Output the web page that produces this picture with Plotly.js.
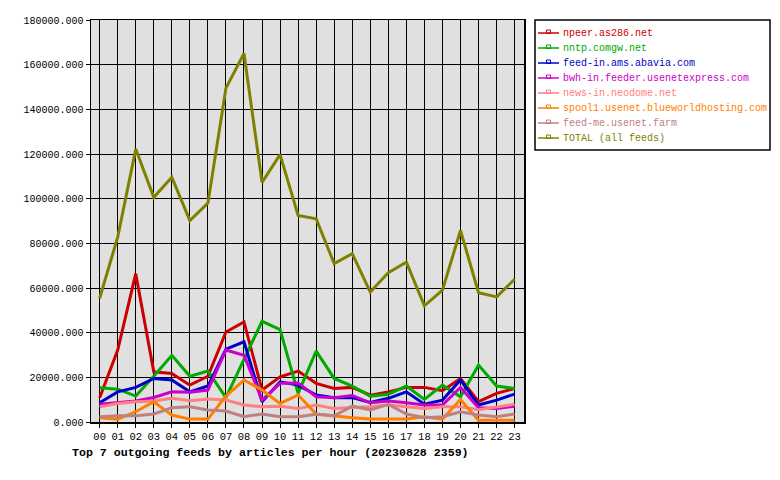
<!DOCTYPE html>
<html>
<head>
<meta charset="utf-8">
<script src="https://cdn.plot.ly/plotly-3.0.1.min.js"></script>
<style>html,body{margin:0;padding:0;background:#fff;}#chart{width:780px;height:480px;}</style>
</head>
<body>
<div id="chart"></div>
<script>
var hours = ["00","01","02","03","04","05","06","07","08","09","10","11","12","13","14","15","16","17","18","19","20","21","22","23"];
var feedNames = ["npeer.as286.net","nntp.comgw.net","feed-in.ams.abavia.com","bwh-in.feeder.usenetexpress.com","news-in.neodome.net","spool1.usenet.blueworldhosting.com","feed-me.usenet.farm","TOTAL (all feeds)"];
var feedColors = ["#cc0000","#00aa00","#0000cc","#cc00cc","#ff8080","#ff8000","#c08080","#808000"];

var npeer   = [10900,32200,66400,22500,21700,16500,20500,40300,44800,14300,20200,22800,17300,15000,15500,12000,13500,15500,15500,14000,19500,9100,12800,15000];
var nntp    = [15300,14700,11600,20500,29900,20500,22800,10900,28000,45100,41400,12800,31700,19500,16100,11600,12400,16100,10100,16500,11300,25500,16100,15000];
var abavia  = [8600,13500,15500,19500,18800,13500,16100,32600,35900,9100,18000,16500,12100,10900,10900,8800,10600,13500,8000,9800,18800,7600,9800,12500];
var bwh     = [8000,8600,9400,11000,13500,13300,14300,32200,29900,9800,17300,17500,11300,10900,11900,8600,9400,8600,7600,7600,15500,6400,6000,7100];
var neodome = [6800,8300,9100,9400,10600,9500,10300,9800,7600,6800,7100,6000,7600,6000,6500,6800,7600,6800,6000,6800,6800,5500,6800,7900];
var spool1  = [1900,1200,4600,9100,3100,1300,1300,11600,18800,14300,8300,12100,3600,2600,1900,1300,1300,1300,2300,1300,10100,800,800,800];
var feedme  = [2400,2800,2800,3600,6400,6800,5400,4900,2400,3600,2400,2400,3500,2800,7100,5400,7900,3600,1900,2400,4600,3100,2400,3600];
var total   = [55400,82800,122200,100600,109600,90200,98000,149500,165000,107300,119700,92500,91000,70900,75400,58200,66900,71600,52000,59000,85800,57900,56000,63900];

var yTickVals = [0,20000,40000,60000,80000,100000,120000,140000,160000,180000];

var series = [npeer, nntp, abavia, bwh, neodome, spool1, feedme, total];
var FONT = "Liberation Mono, DejaVu Sans Mono, monospace";

var traces = series.map(function(vals, i){
  return {
    type: "scatter", mode: "lines", x: hours, y: vals,
    name: feedNames[i], showlegend: false,
    line: {color: feedColors[i], width: 3, shape: "linear"},
    hoverinfo: "skip"
  };
});

// layout geometry
var L = 91, R = 256, T = 20, B = 58, W = 780 - L - R, H = 480 - T - B;
function px(x){ return (x - L) / W; }
function py(y){ return (480 - B - y) / H; }

var shapes = [{
  type: "rect", xref: "paper", yref: "paper",
  x0: px(535), x1: px(770), y0: py(150), y1: py(20),
  line: {color: "#000", width: 1.5}, fillcolor: "rgba(0,0,0,0)"
}];
var annotations = [];
feedNames.forEach(function(nm, i){
  var cy = 33 + 15 * i;
  shapes.push({type: "line", xref: "paper", yref: "paper",
    x0: px(538), x1: px(559), y0: py(cy), y1: py(cy),
    line: {color: feedColors[i], width: 1.5}});
  shapes.push({type: "rect", xref: "paper", yref: "paper",
    x0: px(546.5), x1: px(550.5), y0: py(cy + 0.5), y1: py(cy - 3),
    line: {color: feedColors[i], width: 1}, fillcolor: "rgba(0,0,0,0)"});
  annotations.push({xref: "paper", yref: "paper", x: px(561), y: py(cy),
    xanchor: "left", yanchor: "middle", showarrow: false, text: nm,
    font: {family: FONT, size: 10, color: feedColors[i]}});
});

var layout = {
  width: 780, height: 480,
  margin: {l: L, r: R, t: T, b: B, pad: 0},
  paper_bgcolor: "#ffffff", plot_bgcolor: "#e0e0e0",
  font: {family: FONT, size: 10, color: "#000"},
  showlegend: false,
  title: {
    text: "<b>Top 7 outgoing feeds by articles per hour (20230828 2359)</b>",
    font: {family: FONT, size: 11.6, color: "#000"},
    xref: "container", x: 72 / 780, xanchor: "left",
    yref: "container", y: 1 - 452 / 480, yanchor: "middle"
  },
  xaxis: {
    type: "category", categoryorder: "array", categoryarray: hours,
    range: [-0.48, 23.52],
    showgrid: true, gridcolor: "#000", gridwidth: 1,
    showline: true, linecolor: "#000", linewidth: 1.5, mirror: true,
    ticks: "outside", ticklen: 4, tickcolor: "#000", tickwidth: 1,
    tickfont: {family: FONT, size: 10.5, color: "#000"},
    zeroline: false, fixedrange: true
  },
  yaxis: {
    range: [0, 180000],
    tickmode: "array", tickvals: yTickVals,
    tickformat: ".3f",
    showgrid: true, gridcolor: "#000", gridwidth: 1,
    showline: true, linecolor: "#000", linewidth: 1.5, mirror: true,
    ticks: "outside", ticklen: 4, tickcolor: "#000", tickwidth: 1,
    tickfont: {family: FONT, size: 10, color: "#000"},
    zeroline: false, fixedrange: true
  },
  shapes: shapes,
  annotations: annotations
};

Plotly.newPlot("chart", traces, layout, {staticPlot: true, displayModeBar: false});
</script>
</body>
</html>
